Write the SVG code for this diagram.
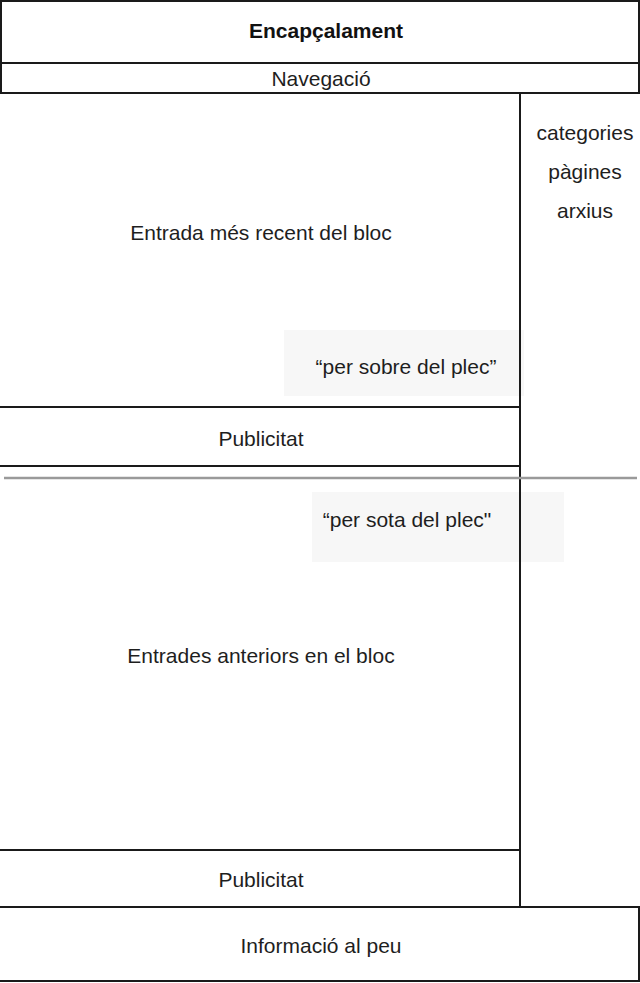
<svg xmlns="http://www.w3.org/2000/svg" width="640" height="983" viewBox="0 0 640 983">
<style>
.ln{stroke:#1a1a1a;stroke-width:2;fill:none}
.t{font-family:"Liberation Sans",Arial,sans-serif;font-size:21px;fill:#1e1e1e;text-anchor:middle}
.b{font-weight:bold;fill:#111}
.fold{fill:#f7f7f7}
</style>
<rect width="640" height="983" fill="#fff"/>
<g id="fold-above"><rect class="fold" x="284" y="330" width="240" height="66"/><text class="t" x="406" y="374">“per sobre del plec”</text></g>
<g id="fold-below"><rect class="fold" x="312" y="492" width="252" height="70"/><text class="t" x="407" y="527">“per sota del plec"</text></g>
<g id="header"><path class="ln" d="M1 63V1H639V63" stroke="#555"/><path class="ln" d="M1 63H639"/><text class="t b" x="326" y="38">Encapçalament</text></g>
<g id="nav"><path class="ln" d="M1 63V93H639V63"/><text class="t" x="321" y="86">Navegació</text></g>
<g id="latest"><path class="ln" d="M0 407H520"/><text class="t" x="261" y="240">Entrada més recent del bloc</text></g>
<g id="ad1"><path class="ln" d="M0 466H520"/><text class="t" x="261" y="446">Publicitat</text></g>
<g id="previous"><path class="ln" d="M0 850H520"/><text class="t" x="261" y="663">Entrades anteriors en el bloc</text></g>
<g id="ad2"><text class="t" x="261" y="887">Publicitat</text></g>
<g id="sidebar"><path class="ln" d="M520 93V907"/><text class="t" x="585" y="140">categories</text><text class="t" x="585" y="179">pàgines</text><text class="t" x="585" y="218">arxius</text></g>
<g id="footer"><path class="ln" d="M0 907H639V981H0"/><text class="t" x="321" y="953">Informació al peu</text></g>
<g id="connectors"><line x1="4" y1="478" x2="637" y2="478" stroke="#9a9a9a" stroke-width="2.5"/></g>
</svg>
